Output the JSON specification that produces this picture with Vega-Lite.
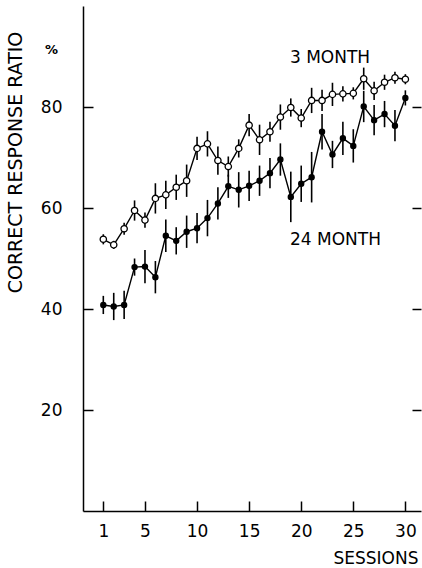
{
  "$schema": "https://vega.github.io/schema/vega-lite/v6.json",
  "width": 338,
  "height": 505,
  "autosize": {"type": "none"},
  "padding": {"left": 83, "top": 6, "right": 1, "bottom": 57},
  "background": "white",
  "config": {
    "view": {"stroke": null},
    "axis": {
      "grid": false,
      "domainColor": "black",
      "domainWidth": 1.5,
      "tickColor": "black",
      "tickWidth": 1.5,
      "labelColor": "black",
      "titleColor": "black",
      "labelFont": "DejaVu Sans",
      "titleFont": "DejaVu Sans",
      "titleFontWeight": "normal"
    }
  },
  "datasets": {
    "main": [
      {"session": 1, "group": "3 MONTH", "mean": 53.8, "err": 1.0},
      {"session": 2, "group": "3 MONTH", "mean": 52.7, "err": 0.8},
      {"session": 3, "group": "3 MONTH", "mean": 55.9, "err": 1.2},
      {"session": 4, "group": "3 MONTH", "mean": 59.5, "err": 2.0},
      {"session": 5, "group": "3 MONTH", "mean": 57.6, "err": 1.5},
      {"session": 6, "group": "3 MONTH", "mean": 61.9, "err": 3.0},
      {"session": 7, "group": "3 MONTH", "mean": 62.6, "err": 2.8},
      {"session": 8, "group": "3 MONTH", "mean": 64.1, "err": 2.5},
      {"session": 9, "group": "3 MONTH", "mean": 65.4, "err": 3.2},
      {"session": 10, "group": "3 MONTH", "mean": 71.8, "err": 2.3},
      {"session": 11, "group": "3 MONTH", "mean": 72.7, "err": 2.5},
      {"session": 12, "group": "3 MONTH", "mean": 69.4, "err": 2.8},
      {"session": 13, "group": "3 MONTH", "mean": 68.2, "err": 2.0},
      {"session": 14, "group": "3 MONTH", "mean": 71.8, "err": 1.8},
      {"session": 15, "group": "3 MONTH", "mean": 76.4, "err": 2.2},
      {"session": 16, "group": "3 MONTH", "mean": 73.5, "err": 3.0},
      {"session": 17, "group": "3 MONTH", "mean": 75.1, "err": 2.0},
      {"session": 18, "group": "3 MONTH", "mean": 78.0, "err": 2.5},
      {"session": 19, "group": "3 MONTH", "mean": 79.9, "err": 1.8},
      {"session": 20, "group": "3 MONTH", "mean": 77.8, "err": 1.8},
      {"session": 21, "group": "3 MONTH", "mean": 81.3, "err": 2.5},
      {"session": 22, "group": "3 MONTH", "mean": 81.3, "err": 2.1},
      {"session": 23, "group": "3 MONTH", "mean": 82.5, "err": 2.3},
      {"session": 24, "group": "3 MONTH", "mean": 82.6, "err": 1.5},
      {"session": 25, "group": "3 MONTH", "mean": 82.7, "err": 1.2},
      {"session": 26, "group": "3 MONTH", "mean": 85.6, "err": 2.2},
      {"session": 27, "group": "3 MONTH", "mean": 83.2, "err": 1.8},
      {"session": 28, "group": "3 MONTH", "mean": 84.9, "err": 1.5},
      {"session": 29, "group": "3 MONTH", "mean": 85.8, "err": 1.2},
      {"session": 30, "group": "3 MONTH", "mean": 85.5, "err": 1.0},
      {"session": 1, "group": "24 MONTH", "mean": 40.8, "err": 1.8},
      {"session": 2, "group": "24 MONTH", "mean": 40.5, "err": 2.7},
      {"session": 3, "group": "24 MONTH", "mean": 40.8, "err": 2.8},
      {"session": 4, "group": "24 MONTH", "mean": 48.3, "err": 1.7},
      {"session": 5, "group": "24 MONTH", "mean": 48.4, "err": 3.3},
      {"session": 6, "group": "24 MONTH", "mean": 46.3, "err": 3.2},
      {"session": 7, "group": "24 MONTH", "mean": 54.5, "err": 3.2},
      {"session": 8, "group": "24 MONTH", "mean": 53.5, "err": 2.7},
      {"session": 9, "group": "24 MONTH", "mean": 55.3, "err": 3.2},
      {"session": 10, "group": "24 MONTH", "mean": 56.0, "err": 3.0},
      {"session": 11, "group": "24 MONTH", "mean": 58.0, "err": 3.6},
      {"session": 12, "group": "24 MONTH", "mean": 60.9, "err": 3.2},
      {"session": 13, "group": "24 MONTH", "mean": 64.3, "err": 2.3},
      {"session": 14, "group": "24 MONTH", "mean": 63.6, "err": 3.5},
      {"session": 15, "group": "24 MONTH", "mean": 64.4, "err": 3.0},
      {"session": 16, "group": "24 MONTH", "mean": 65.4, "err": 3.0},
      {"session": 17, "group": "24 MONTH", "mean": 66.9, "err": 3.0},
      {"session": 18, "group": "24 MONTH", "mean": 69.6, "err": 3.2},
      {"session": 19, "group": "24 MONTH", "mean": 62.2, "err": 5.0},
      {"session": 20, "group": "24 MONTH", "mean": 64.8, "err": 3.6},
      {"session": 21, "group": "24 MONTH", "mean": 66.1, "err": 5.0},
      {"session": 22, "group": "24 MONTH", "mean": 75.1, "err": 3.5},
      {"session": 23, "group": "24 MONTH", "mean": 70.6, "err": 2.7},
      {"session": 24, "group": "24 MONTH", "mean": 73.8, "err": 3.3},
      {"session": 25, "group": "24 MONTH", "mean": 72.3, "err": 3.3},
      {"session": 26, "group": "24 MONTH", "mean": 80.1, "err": 3.1},
      {"session": 27, "group": "24 MONTH", "mean": 77.4, "err": 3.0},
      {"session": 28, "group": "24 MONTH", "mean": 78.6, "err": 2.6},
      {"session": 29, "group": "24 MONTH", "mean": 76.3, "err": 3.1},
      {"session": 30, "group": "24 MONTH", "mean": 81.8, "err": 1.5}
    ],
    "labels": [
      {"session": 18.92, "mean": 89.7, "label": "3 MONTH", "size": 17},
      {"session": 18.92, "mean": 53.7, "label": "24 MONTH", "size": 17}
    ],
    "unit": [
      {"session": -3.97, "mean": 91.3, "label": "%"}
    ]
  },
  "encoding": {
    "x": {
      "field": "session",
      "type": "quantitative",
      "scale": {"domain": [-0.95, 31.5], "nice": false, "zero": false},
      "axis": {
        "values": [1, 5, 10, 15, 20, 25, 30],
        "tickSize": -10,
        "labelPadding": 30,
        "labelBaseline": "middle",
        "labelFontSize": 17,
        "labelFlush": false,
        "title": "SESSIONS",
        "titleFontSize": 17,
        "titleX": 335,
        "titleY": 47,
        "titleAlign": "right",
        "titleBaseline": "middle"
      }
    }
  },
  "layer": [
    {
      "data": {"name": "main"},
      "mark": {"type": "errorbar", "color": "black", "thickness": 1.6},
      "encoding": {
        "y": {
          "field": "mean",
          "type": "quantitative",
          "scale": {"domain": [0, 100], "nice": false, "zero": true},
          "axis": {
            "orient": "left",
            "values": [20, 40, 60, 80],
            "tickSize": -10,
            "labelPadding": 31,
            "labelFontSize": 17,
            "title": "CORRECT RESPONSE RATIO",
            "titleFontSize": 19,
            "titleX": -68,
            "titleY": 156,
            "titleAngle": 270,
            "titleAlign": "center",
            "titleBaseline": "middle"
          }
        },
        "yError": {"field": "err"}
      }
    },
    {
      "data": {"name": "main"},
      "mark": {"type": "line", "color": "black", "strokeWidth": 1.4},
      "encoding": {
        "y": {"field": "mean", "type": "quantitative", "scale": {"domain": [0, 100], "nice": false}, "axis": null},
        "detail": {"field": "group"}
      }
    },
    {
      "data": {"name": "main"},
      "mark": {"type": "point", "filled": false, "stroke": "black", "strokeWidth": 1.3, "opacity": 1},
      "encoding": {
        "y": {
          "field": "mean",
          "type": "quantitative",
          "scale": {"domain": [0, 100], "nice": false},
          "axis": {
            "orient": "right",
            "values": [20, 40, 60, 80],
            "tickSize": -9,
            "domain": false,
            "labels": false,
            "title": null
          }
        },
        "fill": {
          "field": "group",
          "type": "nominal",
          "scale": {"domain": ["3 MONTH", "24 MONTH"], "range": ["white", "black"]},
          "legend": null
        },
        "size": {
          "field": "group",
          "type": "nominal",
          "scale": {"domain": ["3 MONTH", "24 MONTH"], "range": [40, 26]},
          "legend": null
        }
      }
    },
    {
      "data": {"name": "labels"},
      "mark": {"type": "text", "align": "left", "baseline": "middle", "font": "DejaVu Sans", "fontSize": 17, "color": "black"},
      "encoding": {
        "y": {"field": "mean", "type": "quantitative", "scale": {"domain": [0, 100], "nice": false}, "axis": null},
        "text": {"field": "label"}
      }
    },
    {
      "data": {"name": "unit"},
      "mark": {"type": "text", "align": "center", "baseline": "middle", "font": "DejaVu Sans", "fontSize": 13, "fontWeight": "bold", "color": "black"},
      "encoding": {
        "y": {"field": "mean", "type": "quantitative", "scale": {"domain": [0, 100], "nice": false}, "axis": null},
        "text": {"field": "label"}
      }
    }
  ],
  "resolve": {"axis": {"y": "independent"}}
}
